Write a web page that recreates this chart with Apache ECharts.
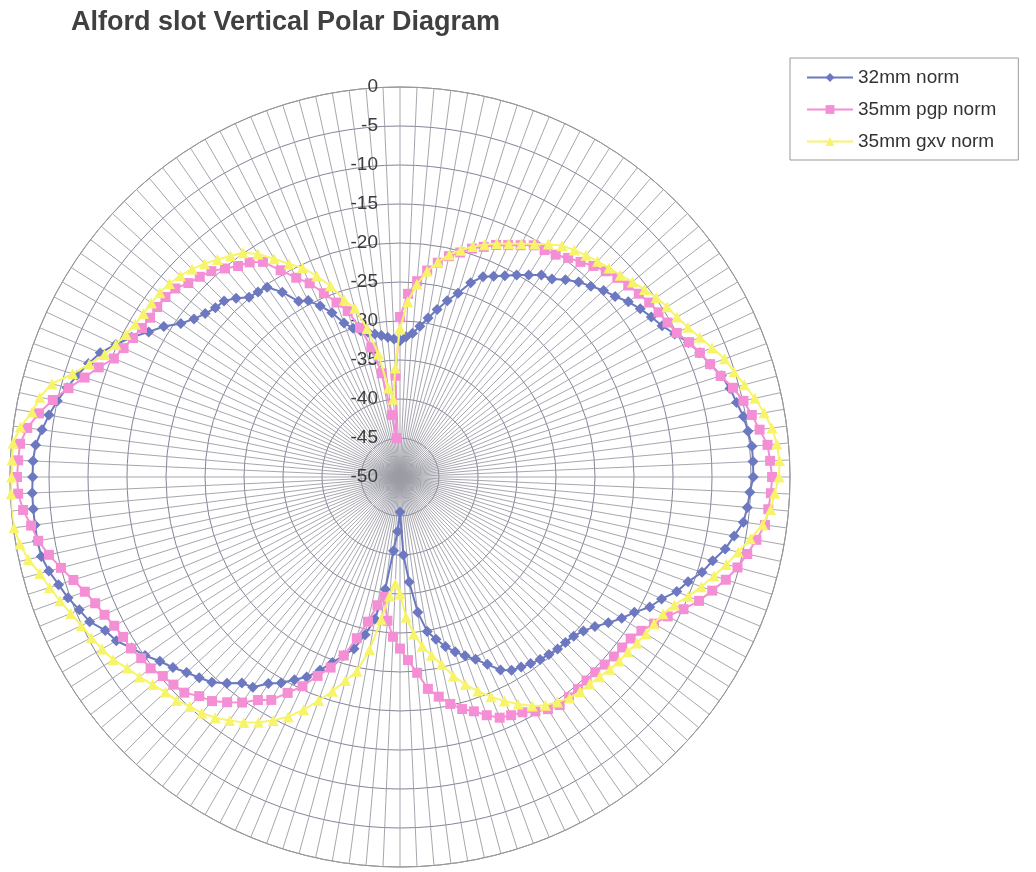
<!DOCTYPE html>
<html>
<head>
<meta charset="utf-8">
<script src="https://cdn.jsdelivr.net/npm/echarts@6/dist/echarts.min.js"></script>
<style>
html,body{margin:0;padding:0;background:#fff;}
#chart{width:1036px;height:872px;}
</style>
</head>
<body>
<div id="chart"></div>
<script>
// Angle step between measurements (degrees), clockwise from top
var angleStep = 2.5;
var seriesNames = ['32mm norm', '35mm pgp norm', '35mm gxv norm'];
var radialTicks = [0, -5, -10, -15, -20, -25, -30, -35, -40, -45, -50];

var norm32 = [
-32.5,-32,-31.5,-30.5,-29.3,-28,-26.6,-25.3,-23.5,-22.2,-21.6,-20.9,-20.1,-19.3,-18.4,-18.0,-17.0,-16.1,-15.4,-14.6,-14.0,-13.1,-12.4,-11.8,
-11.2,-10.3,-9.2,-8.4,-7.7,-6.8,-6.2,-5.8,-5.3,-5.0,-4.7,-4.7,-4.7,-5.1,-5.3,-5.6,-6.5,-7.3,-8.5,-9.4,-10.7,-11.6,-13.0,-13.9,
-15.3,-16.3,-17.4,-18.5,-19.3,-19.8,-20.0,-20.1,-20.3,-20.5,-20.8,-21.1,-21.4,-22.1,-23.5,-24.7,-25.6,-26.5,-27.5,-28.7,-29.9,-32.5,-36.5,-40,
-45.5,-43,-40.5,-35.5,-31.5,-29.3,-27.2,-26,-24.7,-23.2,-21.7,-20.7,-19.5,-18.6,-17.1,-16.7,-15.5,-14.3,-13.6,-12.9,-12.0,-11.2,-10.1,-9.2,
-8.0,-7.4,-6.1,-5.5,-4.7,-4.1,-3.4,-2.9,-2.8,-2.8,-2.8,-2.8,-2.9,-2.9,-3.1,-3.7,-4.3,-5.0,-5.8,-6.6,-7.5,-8.4,-9.8,-11.2,
-12.8,-14.1,-15.7,-16.7,-17.4,-17.9,-18.1,-18.9,-19.9,-20.1,-20.3,-21.9,-24.0,-24.5,-25.8,-27.2,-29.0,-30.0,-30.6,-31.0,-31.4,-31.7,-32.0,-32.3
];
var pgp35 = [
-29.5,-26.5,-24.8,-23.3,-22.1,-21.0,-20.2,-19.3,-18.6,-17.8,-17.2,-16.5,-15.7,-15.5,-15.2,-14.6,-14.0,-13.3,-12.7,-12.2,-11.8,-11.4,-11.0,-10.7,
-10.4,-10.0,-9.1,-8.4,-7.7,-6.9,-5.8,-4.9,-4.2,-3.5,-2.7,-2.5,-2.3,-2.4,-2.6,-2.8,-3.6,-4.4,-5.2,-6.2,-7.4,-8.5,-9.9,-11.3,
-12.4,-13.3,-13.9,-14.1,-14.2,-14.4,-14.6,-14.6,-14.5,-14.4,-14.3,-14.7,-15.3,-16.0,-16.3,-16.6,-17.5,-18.5,-19.2,-20.2,-21.4,-22.6,-24.8,-26.5,
-28.0,-29.5,-31.5,-34.5,-33.3,-31.0,-28.6,-26.0,-24.0,-22.4,-20.4,-18.8,-17.0,-16.1,-14.7,-13.6,-12.5,-11.9,-10.9,-10.6,-10.3,-9.7,-9.5,-9.1,
-9.0,-8.7,-8.2,-7.7,-7.0,-6.1,-5.0,-3.9,-2.9,-2.3,-1.5,-1.0,-0.9,-1.0,-1.1,-1.8,-3.0,-4.4,-6.0,-7.6,-8.9,-10.3,-10.9,-11.4,
-11.8,-12.0,-12.0,-12.1,-12.4,-13.2,-13.7,-14.2,-15.1,-15.9,-16.4,-17.3,-19.4,-21.2,-22.6,-24.5,-26.2,-27.7,-30.2,-33.0,-36.5,-42.0,-45.0,-37.0
];
var gxv35 = [
-31,-27.5,-25.2,-23.4,-22.0,-20.8,-19.9,-19.0,-18.3,-17.6,-17.0,-16.3,-15.5,-14.6,-13.8,-13.3,-12.9,-12.5,-12.1,-11.7,-11.1,-10.5,-9.9,-9.4,
-9.0,-8.4,-7.6,-6.7,-5.7,-5.1,-4.3,-3.4,-2.6,-1.9,-1.5,-1.3,-1.4,-1.9,-2.3,-3.1,-4.4,-5.6,-6.7,-7.8,-8.9,-10.0,-11.2,-12.0,
-12.4,-12.6,-12.9,-13.2,-13.3,-13.5,-13.8,-14.0,-14.1,-14.3,-14.8,-15.3,-16.1,-17.2,-18.3,-19.5,-20.8,-22.1,-23.6,-25.4,-26.8,-28.1,-29.8,-32.0,
-35.0,-36.3,-34.7,-31.6,-27.5,-24.5,-23.0,-21.2,-19.5,-17.7,-16.1,-14.8,-13.7,-12.7,-11.9,-11.1,-10.5,-10.1,-9.5,-9.2,-8.6,-7.9,-7.3,-6.4,
-5.9,-5.4,-4.9,-4.3,-3.6,-2.9,-2.2,-1.2,-0.5,-0.1,0,-0.1,-0.2,-0.2,-0.2,-0.9,-2.1,-2.7,-3.8,-6.0,-7.6,-9.0,-9.8,-10.4,
-10.8,-11.0,-11.1,-11.2,-11.4,-11.8,-12.3,-12.9,-13.6,-14.3,-14.9,-16.1,-17.7,-19.2,-20.4,-22.1,-23.9,-26.2,-27.6,-30.5,-34.0,-38.5,-40.0,-36.0
];

function toPolar(vals) {
  var out = vals.map(function (v, i) { return [v, i * angleStep]; });
  out.push([vals[0], 360]);
  return out;
}

var chart = echarts.init(document.getElementById('chart'), null, {renderer: 'canvas'});
var FONT = '"Liberation Sans", Arial, sans-serif';
chart.setOption({
  animation: false,
  backgroundColor: '#ffffff',
  title: {
    text: 'Alford slot Vertical Polar Diagram',
    left: 66, top: 4,
    textStyle: {fontSize: 27, fontWeight: 'bold', color: '#404040', fontFamily: FONT}
  },
  legend: {
    orient: 'vertical',
    left: 790, top: 58,
    width: 220,
    padding: [10, 22, 9, 16],
    itemGap: 13,
    itemWidth: 46, itemHeight: 11,
    borderColor: '#9a9a9a', borderWidth: 1,
    backgroundColor: '#fff',
    textStyle: {fontSize: 19, color: '#333', fontFamily: FONT},
    data: seriesNames
  },
  polar: {center: [400, 477], radius: 390},
  angleAxis: {
    type: 'value', min: 0, max: 360, interval: angleStep,
    startAngle: 90, clockwise: true,
    axisLine: {show: true, lineStyle: {color: '#9a9a9a', width: 1}},
    axisTick: {show: false},
    axisLabel: {show: false},
    splitLine: {show: true, lineStyle: {color: '#9c9ca6', width: 0.9}}
  },
  radiusAxis: {
    type: 'value', min: -50, max: 0, interval: 5,
    axisLine: {show: false},
    axisTick: {show: false},
    axisLabel: {
      show: true, margin: 22, fontSize: 19, color: '#3c3c3c', fontFamily: FONT,
      formatter: function (v) { return radialTicks.indexOf(v) >= 0 ? String(v) : ''; }
    },
    splitLine: {show: true, lineStyle: {color: '#84849a', width: 1}}
  },
  series: [
    {name: seriesNames[0], type: 'line', coordinateSystem: 'polar', data: toPolar(norm32),
     symbol: 'diamond', symbolSize: 11, color: '#6c78c0', lineStyle: {width: 2}, z: 3},
    {name: seriesNames[1], type: 'line', coordinateSystem: 'polar', data: toPolar(pgp35),
     symbol: 'rect', symbolSize: 10, color: '#f58fd5', lineStyle: {width: 2}, z: 4},
    {name: seriesNames[2], type: 'line', coordinateSystem: 'polar', data: toPolar(gxv35),
     symbol: 'triangle', symbolSize: 11, color: '#f7f46a', lineStyle: {width: 2}, z: 5}
  ]
});
</script>
</body>
</html>
